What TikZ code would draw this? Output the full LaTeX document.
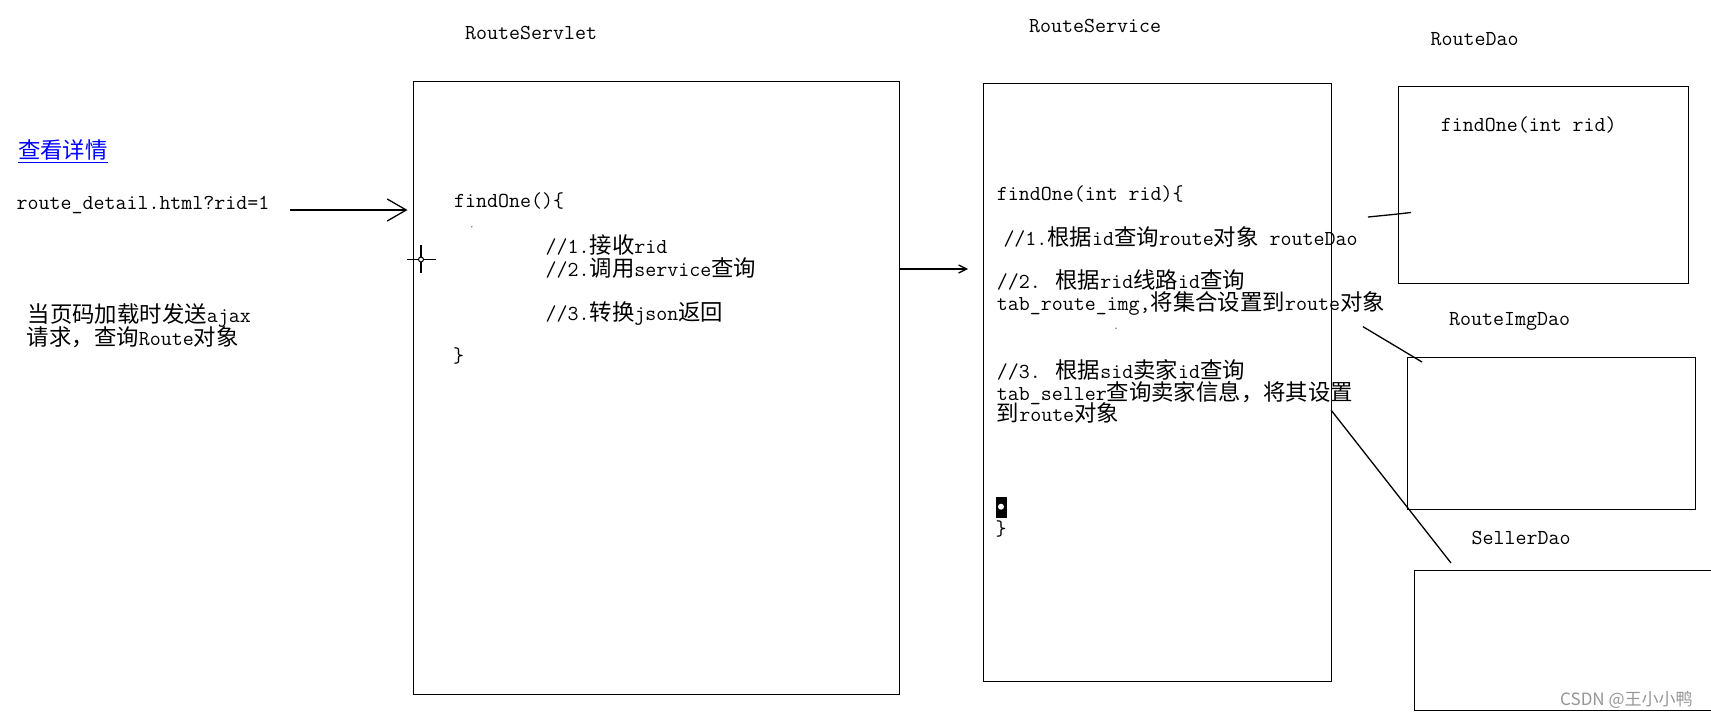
\documentclass[tikz,border=0pt]{standalone}
\usepackage{fontspec}
\newfontfamily\cjk{Noto Sans CJK SC}[Scale=1.05]
\newfontfamily\wmfont{Noto Sans CJK SC}
\usetikzlibrary{arrows.meta}
\newcommand\zh[1]{{\cjk #1}}
\newcommand\codefont{\fontsize{21.33}{24}\selectfont\ttfamily}
\definecolor{linkblue}{RGB}{0,0,255}
\definecolor{wmgray}{RGB}{150,150,150}
\begin{document}
\begin{tikzpicture}[x=1pt,y=-1pt,
  box/.style={draw, line width=1.4pt, inner sep=0pt, anchor=north west},
  txt/.style={anchor=base west, inner sep=0pt, font=\codefont},
  conn/.style={line width=1.3pt},
]
\useasboundingbox (0,0) rectangle (1711,718);
\fill[white] (0,0) rectangle (1711,718);

% boxes
\node[box, minimum width=486.5pt, minimum height=613pt] (servlet) at (412.5,81) {};
\node[box, minimum width=348pt, minimum height=598pt] (service) at (983,83) {};
\node[box, minimum width=290pt, minimum height=197pt] (dao) at (1398,86) {};
\node[box, minimum width=288pt, minimum height=152pt] (imgdao) at (1407,357) {};
\node[box, minimum width=300pt, minimum height=140pt] (sellerdao) at (1414,570) {};

% titles
\node[txt] (lservlet) at (465,39.5) {RouteServlet};
\node[txt] (lservice) at (1029,32.5) {RouteService};
\node[txt] (ldao) at (1430.5,45.5) {RouteDao};
\node[txt] (limg) at (1449,325) {RouteImgDao};
\node[txt] (lseller) at (1471.5,544) {SellerDao};

% left side
\node[txt, text=linkblue] (link) at (18,158) {\zh{查看详情}};
\draw[linkblue, line width=1.2pt] ([yshift=-4.5pt]link.base west) -- ([yshift=-4.5pt]link.base east);
\node[txt] (req) at (16.5,209.5) {route\_detail.html?rid=1};
\node[txt] (note1) at (27.5,322) {\zh{当页码加载时发送}ajax};
\node[txt] (note2) at (26.7,345) {\zh{请求，查询}Route\zh{对象}};

% request arrow
\coordinate (reqs) at (290,210);
\draw[conn, -{Straight Barb[length=19pt,width=22pt]}, shorten >=5pt] (reqs) -- (reqs -| servlet.west);

% servlet content
\node[txt] (s0) at (454,207.5) {findOne()\{};
\node[txt] (s1) at (545.5,253) {//1.\zh{接收}rid};
\node[txt] (s2) at (545.5,276) {//2.\zh{调用}service\zh{查询}};
\node[txt] (s3) at (545.5,320.5) {//3.\zh{转换}json\zh{返回}};
\node[txt] (s4) at (453,362) {\}};
\fill[gray] (471.7,226.7) circle (0.9);

% crosshair
\draw[line width=1.3pt] (407,259.5) -- (436,259.5) (421,245) -- (421,273);
\draw[line width=1pt, fill=white] (421,259.5) circle (2.5);

% servlet -> service arrow
\coordinate (a2) at (968,269);
\draw[conn, -{Straight Barb[length=8pt,width=8pt]}] (a2 -| servlet.east) -- (a2);

% service content
\node[txt] (v0) at (996.7,200) {findOne(int rid)\{};
\node[txt] (v1) at (1003.3,245) {//1.\zh{根据}id\zh{查询}route\zh{对象} routeDao};
\node[txt] (v2) at (996.7,288.3) {//2. \zh{根据}rid\zh{线路}id\zh{查询}};
\node[txt] (v3) at (996.7,310) {tab\_route\_img,\zh{将集合设置到}route\zh{对象}};
\node[txt] (v4) at (996.7,378.3) {//3. \zh{根据}sid\zh{卖家}id\zh{查询}};
\node[txt] (v5) at (996.7,400.7) {tab\_seller\zh{查询卖家信息，将其设置}};
\node[txt] (v6) at (996.7,421.7) {\zh{到}route\zh{对象}};
\fill[gray] (1116,328.3) circle (0.9);
\fill (995.7,496.7) rectangle (1006.7,518);
\fill[white] (1001,506.7) circle (3);
\node[txt] (v7) at (995.5,535) {\}};

% dao content
\node[txt] (d0) at (1440.7,131) {findOne(int rid)};

% service -> daos lines
\coordinate (c1s) at (1368,217);
\coordinate (c1m) at (1395,214.3);
\coordinate (c1e) at (1411,212.5);
\draw[conn] (c1s) -- (c1m) -- (c1e);
\coordinate (c2s) at (1363,326.7);
\coordinate (c2e) at (1422,362);
\draw[conn] (c2s) -- (c2e);
\coordinate (c3s) at (1331,410);
\coordinate (c3e) at (1451,563);
\draw[conn] (c3s) -- (c3e);

% watermark
\node[anchor=west, inner sep=0pt, text=wmgray, font=\wmfont\fontsize{17}{19}\selectfont] (wm) at (1560,700) {CSDN @王小小鸭};
\end{tikzpicture}
\end{document}
